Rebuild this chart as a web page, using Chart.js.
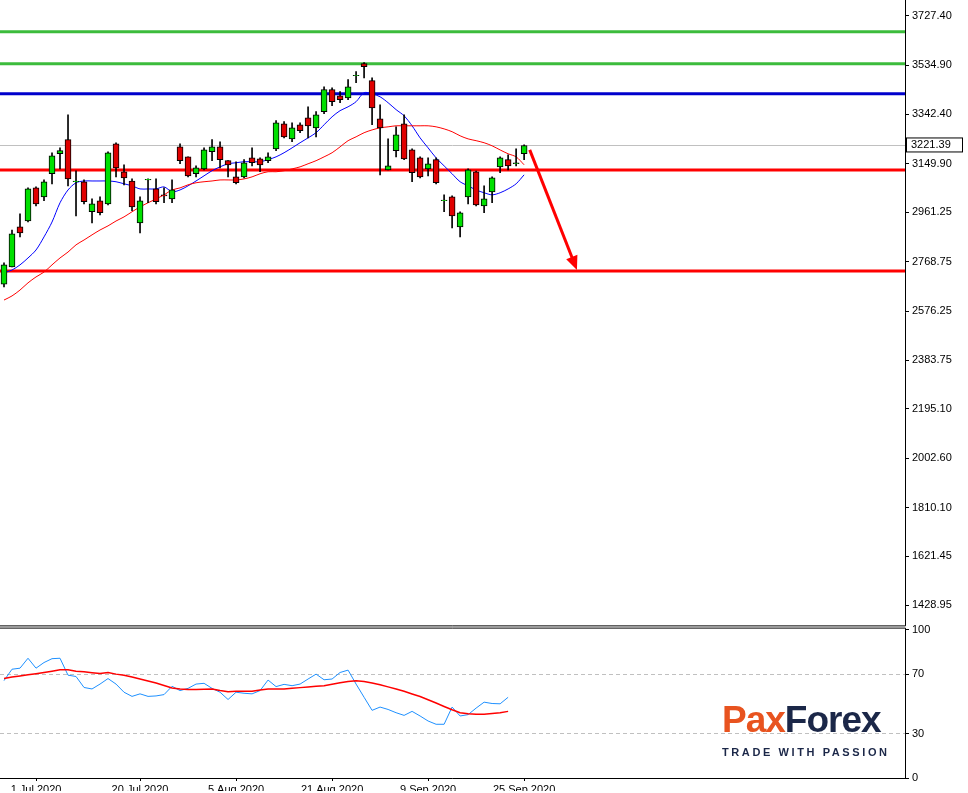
<!DOCTYPE html>
<html>
<head>
<meta charset="utf-8">
<script src="https://cdn.jsdelivr.net/npm/chart.js@4/dist/chart.umd.min.js"></script>
<style>
  body { margin: 0; background: #fff; width: 968px; height: 793px; overflow: hidden; position: relative; font-family: 'Liberation Sans', sans-serif; }
  #top { position: absolute; left: 0; top: -10px; width: 968px; height: 645px; }
  #bottom { position: absolute; left: 0; top: 620px; width: 968px; height: 171px; }
  #logo { position: absolute; left: 722px; top: 700px; width: 190px; white-space: nowrap; }
  #logo .name { font-size: 37px; font-weight: bold; letter-spacing: -1px; line-height: 40px; }
  #logo .pax { color: #e8531f; }
  #logo .forex { color: #1b2748; }
  #logo .tag { font-size: 11px; font-weight: bold; color: #1b2748; letter-spacing: 2.6px; margin-top: 6px; }
</style>
</head>
<body>
<div id="top"><canvas id="priceChart"></canvas></div>
<div id="bottom"><canvas id="oscChart"></canvas></div>
<div id="logo"><div class="name"><span class="pax">Pax</span><span class="forex">Forex</span></div><div class="tag">TRADE WITH PASSION</div></div>
<script>
// daily candles, 25 Jun 2020 .. 25 Sep 2020
const opens = [2681,2748,2904,2927,3056,3021,3111,3189,3244,3080, 3080,2963,3006,2994,3228,3119,3083,2920,3087,3052, 3029,3013,3216,3177,3111,3130,3197,3216,3162,3099, 3099,3173,3169,3162,3208,3306,3247,3302,3329,3290, 3353,3439,3415,3407,3493,3540,3474,3325,3126,3201, 3306,3204,3173,3130,3166,3006,3021,2904,3021,3119, 2986,3040,3138,3166,3150,3189];
const closes = [2756,2877,2881,3052,2994,3080,3181,3201,3091,3083, 3002,2994,2959,3193,3134,3095,2982,3006,3089,3002, 3025,3048,3162,3103,3134,3204,3216,3166,3146,3076, 3154,3154,3146,3177,3310,3255,3290,3279,3298,3341, 3439,3392,3400,3450,3495,3528,3368,3290,3142,3263, 3169,3115,3099,3150,3076,3009,2947,2959,3126,2990, 3013,3095,3173,3142,3154,3221.39];
const highs = [2764,2892,2955,3056,3060,3087,3193,3212,3341,3123, 3087,3013,3021,3197,3232,3146,3091,3021,3091,3091, 3056,3087,3228,3177,3142,3212,3244,3236,3162,3158, 3166,3212,3173,3193,3318,3314,3310,3310,3372,3353, 3450,3446,3431,3478,3509,3544,3485,3380,3247,3294, 3341,3208,3177,3173,3173,3029,3025,2963,3130,3122, 3064,3099,3177,3185,3208,3224];
const lows = [2670,2748,2865,2923,2986,3006,3072,3130,3064,2947, 2994,2920,2951,2990,3099,3068,2967,2881,2998,2994, 2998,2998,3150,3099,3099,3126,3162,3134,3099,3072, 3095,3142,3119,3154,3201,3251,3236,3271,3251,3255, 3345,3376,3388,3400,3466,3485,3302,3107,3126,3177, 3166,3080,3095,3103,3072,2963,2900,2865,2994,2986, 2959,2998,3115,3126,3142,3166];
const maFast = [2725,2736,2756,2783,2814,2865,2923,2998,3048,3076, 3083,3083,3083,3083,3080,3072,3064,3052,3052,3052, 3060,3041,3048,3064,3083,3103,3123,3138,3150,3154, 3158,3158,3158,3166,3177,3193,3212,3232,3251,3271, 3302,3333,3357,3372,3392,3427,3423,3411,3388,3361, 3337,3298,3251,3212,3173,3142,3111,3080,3064,3048, 3037,3029,3037,3052,3072,3107];
const maSlow = [2619,2635,2658,2686,2709,2728,2756,2783,2806,2834, 2853,2873,2892,2908,2927,2943,2963,2982,2998,3013, 3029,3048,3056,3068,3076,3080,3083,3087,3087,3087, 3091,3099,3111,3119,3119,3123,3130,3138,3150,3162, 3177,3193,3216,3240,3255,3271,3282,3290,3294,3298, 3298,3298,3298,3298,3294,3286,3275,3259,3247,3240, 3232,3220,3204,3189,3177,3146];
const oscFast = [65.6,73.3,74,80.7,74,77.8,80.4,80.7,69.3,68.4, 61,60,63.3,67,63.3,57.8,55,56.7,55,55.3, 56.2,61.8,58.9,60.4,63.3,63.8,60.4,57.8,52.9,57.8, 57.1,56.7,58.9,66,61.6,63.1,62.2,63.3,66.7,70, 66.2,66.7,71.1,72.7,63.3,54.4,45.6,47.8,46.2,44, 42.2,44.9,41.8,38.4,36.2,36.2,47.8,41.8,42.7,47.1, 51.1,50.2,50,54.4,null,null];
const oscSlow = [67.1,68,68.7,69.5,70.3,71.1,72,72.9,72.9,72, 71.6,71,70.4,71.1,70,69.3,68,66.7,65.3,64, 62.3,60.7,60,59.6,59.6,59.8,60,59,58.2,58.4, 58.4,58.4,59.3,60,60,60,60.5,60.9,61.3,61.8, 62.2,63.2,64.2,65.1,65.6,65,64,62.8,61.4,60, 58.4,56.6,54.9,52.7,50.5,48.2,46,44,43.3,43, 42.9,43.4,44,44.9,null,null];

const dateIdx = [4, 17, 29, 41, 53, 65];
const dateLabels = ['1 Jul 2020', '20 Jul 2020', '5 Aug 2020', '21 Aug 2020', '9 Sep 2020', '25 Sep 2020'];
const priceTicks = [3727.40, 3534.90, 3342.40, 3149.90, 2961.25, 2768.75, 2576.25, 2383.75, 2195.10, 2002.60, 1810.10, 1621.45, 1428.95];
const levels = [
    { value: 3665, color: '#3cbc3c' },
    { value: 3540, color: '#3cbc3c' },
    { value: 3423, color: '#0000cc' },
    { value: 3126, color: '#ff0000' },
    { value: 2732, color: '#ff0000' },
];
const arrowFrom = [65.7, 3204];
const arrowTo = [71.6, 2736];
const oscLevels = [70, 30];

const fontTick = { family: "'Liberation Sans', sans-serif", size: 11 };
const xMin = -0.5, xMax = 112.6;

const bodies = opens.map((o, i) => ({ x: i, y: [o, closes[i]] }));
const wicks = highs.map((h, i) => ({ x: i, y: [lows[i], h] }));
const bodyColors = opens.map((o, i) => closes[i] >= o ? '#00e000' : '#e00000');

const priceDecor = {
    id: 'priceDecor',
    beforeDatasetsDraw(chart) {
        const { ctx, chartArea: a, scales: { x, y } } = chart;
        ctx.save();
        // current price line
        const last = closes[closes.length - 1];
        ctx.strokeStyle = '#c0c0c0';
        ctx.lineWidth = 1;
        ctx.beginPath();
        ctx.moveTo(a.left, Math.round(y.getPixelForValue(last)) + 0.5);
        ctx.lineTo(a.right, Math.round(y.getPixelForValue(last)) + 0.5);
        ctx.stroke();
        levels.forEach(l => {
            const py = y.getPixelForValue(l.value);
            ctx.strokeStyle = l.color;
            ctx.lineWidth = 3;
            ctx.beginPath();
            ctx.moveTo(a.left, py);
            ctx.lineTo(a.right, py);
            ctx.stroke();
        });
        ctx.restore();
    },
    afterDraw(chart) {
        const { ctx, chartArea: a, scales: { x, y } } = chart;
        ctx.save();
        // arrow
        const x1 = x.getPixelForValue(arrowFrom[0]), y1 = y.getPixelForValue(arrowFrom[1]);
        const x2 = x.getPixelForValue(arrowTo[0]), y2 = y.getPixelForValue(arrowTo[1]);
        const ang = Math.atan2(y2 - y1, x2 - x1);
        ctx.strokeStyle = '#ff0000';
        ctx.fillStyle = '#ff0000';
        ctx.lineWidth = 3;
        ctx.beginPath();
        ctx.moveTo(x1, y1);
        ctx.lineTo(x2 - 8 * Math.cos(ang), y2 - 8 * Math.sin(ang));
        ctx.stroke();
        ctx.beginPath();
        ctx.moveTo(x2, y2);
        ctx.lineTo(x2 - 14 * Math.cos(ang) + 6 * Math.sin(ang), y2 - 14 * Math.sin(ang) - 6 * Math.cos(ang));
        ctx.lineTo(x2 - 14 * Math.cos(ang) - 6 * Math.sin(ang), y2 - 14 * Math.sin(ang) + 6 * Math.cos(ang));
        ctx.closePath();
        ctx.fill();
        // frame
        ctx.strokeStyle = '#000';
        ctx.lineWidth = 1;
        ctx.beginPath();
        ctx.moveTo(a.left, a.bottom + 0.5);
        ctx.lineTo(a.right + 0.5, a.bottom + 0.5);
        ctx.lineTo(a.right + 0.5, a.top);
        ctx.stroke();
        // current price box
        const last = closes[closes.length - 1];
        const py = y.getPixelForValue(last);
        ctx.fillStyle = '#fff';
        ctx.fillRect(a.right + 1, py - 7, 56, 14);
        ctx.strokeRect(a.right + 1.5, py - 7.5, 56, 14);
        ctx.fillStyle = '#000';
        ctx.font = "11px 'Liberation Sans', sans-serif";
        ctx.textBaseline = 'middle';
        ctx.fillText(last.toFixed(2), a.right + 6, py);
        ctx.restore();
    }
};

new Chart(document.getElementById('priceChart').getContext('2d'), {
    type: 'bar',
    data: {
        datasets: [
            { type: 'line', data: maSlow.map((v, i) => ({ x: i, y: v })), borderColor: '#ff0000', borderWidth: 1, pointRadius: 0, tension: 0.3, order: 3 },
            { type: 'line', data: maFast.map((v, i) => ({ x: i, y: v })), borderColor: '#0000ff', borderWidth: 1, pointRadius: 0, tension: 0.3, order: 3 },
            { data: wicks, backgroundColor: '#000', barThickness: 1, grouped: false, order: 2 },
            { data: bodies, backgroundColor: bodyColors, borderColor: '#000', borderWidth: 1, borderSkipped: false, barThickness: 6, grouped: false, order: 1 },
        ],
    },
    options: {
        responsive: true,
        maintainAspectRatio: false,
        animation: false,
        layout: { padding: { top: 0, bottom: 1, left: 0, right: 0 } },
        scales: {
            x: { type: 'linear', min: xMin, max: xMax, offset: false, display: false },
            y: {
                position: 'right',
                min: 1351.1,
                max: 3789.8,
                afterFit(s) { s.width = 63; },
                afterBuildTicks(s) { s.ticks = priceTicks.map(v => ({ value: v })); },
                grid: { drawOnChartArea: false, color: '#000', tickLength: 4 },
                border: { display: false },
                ticks: { color: '#000', font: fontTick, padding: 3, callback: v => v.toFixed(2) },
            },
        },
        plugins: { legend: { display: false }, tooltip: { enabled: false } },
    },
    plugins: [priceDecor],
});

const oscDecor = {
    id: 'oscDecor',
    beforeDatasetsDraw(chart) {
        const { ctx, chartArea: a, scales: { y } } = chart;
        ctx.save();
        ctx.strokeStyle = '#c0c0c0';
        ctx.setLineDash([4, 3]);
        oscLevels.forEach(v => {
            const py = Math.round(y.getPixelForValue(v)) + 0.5;
            ctx.beginPath();
            ctx.moveTo(a.left, py);
            ctx.lineTo(a.right, py);
            ctx.stroke();
        });
        ctx.restore();
    },
    afterDraw(chart) {
        const { ctx, chartArea: a } = chart;
        ctx.save();
        ctx.strokeStyle = '#000';
        ctx.lineWidth = 1;
        ctx.beginPath();
        ctx.moveTo(a.left, a.top - 1.5);
        ctx.lineTo(a.right + 0.5, a.top - 1.5);
        ctx.lineTo(a.right + 0.5, a.bottom + 0.5);
        ctx.lineTo(a.left, a.bottom + 0.5);
        ctx.stroke();
        ctx.restore();
    }
};

new Chart(document.getElementById('oscChart').getContext('2d'), {
    type: 'line',
    data: {
        datasets: [
            { data: oscSlow.map((v, i) => ({ x: i, y: v })), borderColor: '#ff0000', borderWidth: 1.5, pointRadius: 0 },
            { data: oscFast.map((v, i) => ({ x: i, y: v })), borderColor: '#1e90ff', borderWidth: 1, pointRadius: 0 },
        ],
    },
    options: {
        responsive: true,
        maintainAspectRatio: false,
        animation: false,
        layout: { padding: { top: 3, left: 0, right: 0, bottom: 0 } },
        scales: {
            x: {
                type: 'linear', min: xMin, max: xMax, offset: false,
                afterBuildTicks(s) { s.ticks = dateIdx.map(v => ({ value: v })); },
                afterFit(s) { s.height = 13; },
                grid: { drawOnChartArea: false, color: '#000', tickLength: 3 },
                border: { display: false },
                ticks: { color: '#000', font: fontTick, maxRotation: 0, padding: 2, callback: v => dateLabels[dateIdx.indexOf(v)] },
            },
            y: {
                position: 'right', min: 0, max: 100,
                afterFit(s) { s.width = 63; },
                afterBuildTicks(s) { s.ticks = [100, 70, 30, 0].map(v => ({ value: v })); },
                grid: { drawOnChartArea: false, color: '#000', tickLength: 4 },
                border: { display: false },
                ticks: { color: '#000', font: fontTick, padding: 3 },
            },
        },
        plugins: { legend: { display: false }, tooltip: { enabled: false } },
    },
    plugins: [oscDecor],
});
</script>
</body>
</html>
